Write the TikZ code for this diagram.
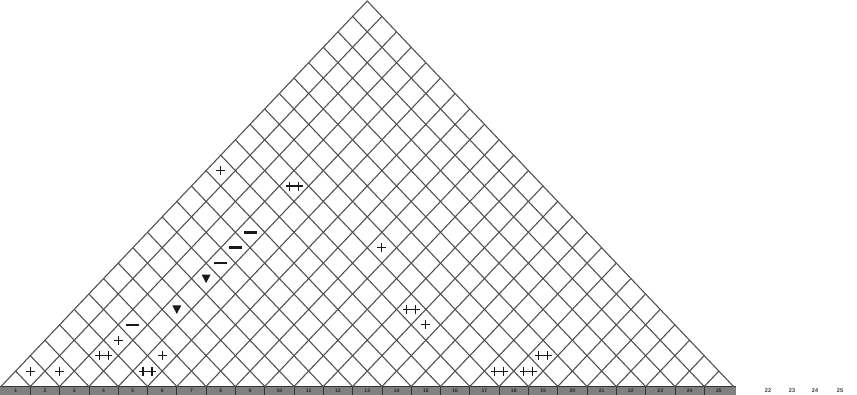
\documentclass[tikz,border=0pt]{standalone}
\usepackage{fontspec}
\setmainfont{Liberation Sans}
\begin{document}
\begin{tikzpicture}[x=1pt,y=-1pt,
  gridline/.style={draw=black!68, line width=1.1pt, line cap=round},
  symline/.style={line width=1.1pt, draw=black!90},
  plusmark/.pic={\draw[symline] (-4.5,0)--(4.5,0) (0,-4.5)--(0,4.5);},
  dplusmark/.pic={\draw[symline] (-8.5,0)--(8.5,0) (-4.5,-4.5)--(-4.5,4.5) (4.5,-4.5)--(4.5,4.5);},
  minusmark/.pic={\draw[line width=2.6pt, draw=black!90] (-6.5,0)--(6.5,0);},
  trimark/.pic={\fill[black!90] (-4.5,-4)--(4.5,-4)--(0,4.5)--cycle;},
  barlabel/.style={font=\fontsize{5}{5}\selectfont\bfseries, text=black!85, inner sep=0pt},
  outlabel/.style={font=\fontsize{5.5}{5.5}\selectfont\bfseries, text=black!80, inner sep=0pt}
]
\useasboundingbox (0,0) rectangle (857,395);
% bottom bar
\fill[black!50] (0,386.5) rectangle (736,395);
\draw[black!80, line width=0.8pt] (0,386.5) -- (736,386.5);
\foreach \i in {1,...,24}
  \draw[black!80, line width=0.8pt] ({1+29.3*\i},386.5) -- ({1+29.3*\i},395);
\foreach \k in {1,...,25}
  \node[barlabel] (bar\k) at ({1+29.3*(\k-0.5)},391.2) {\k};
% grid
\foreach \i in {0,...,25} {
  \draw[gridline] ({1+29.3*\i},386.5) -- ({1+14.65*(\i+25)},{386.5-15.42*(25-\i)});
  \draw[gridline] ({1+29.3*\i},386.5) -- ({1+14.65*\i},{386.5-15.42*\i});
}
% markers
\foreach \i/\j [count=\n] in {0/14,2/5,4/6,0/1,1/2,8/17,12/16}
  \pic (plus\n) at ({1+14.65*(\i+\j+1)},{386.5-15.42*(\j-\i)}) {plusmark};
\foreach \i/\j [count=\n] in {3/16,2/4,4/5,11/16,16/17,17/18,17/19}
  \pic (dplus\n) at ({1+14.65*(\i+\j+1)},{386.5-15.42*(\j-\i)}) {dplusmark};
\foreach \i/\j [count=\n] in {3/13,3/12,3/11,2/6}
  \pic (minus\n) at ({1+14.65*(\i+\j+1)},{386.5-15.42*(\j-\i)}) {minusmark};
\foreach \i/\j [count=\n] in {3/10,3/8}
  \pic (tri\n) at ({1+14.65*(\i+\j+1)},{386.5-15.42*(\j-\i)}) {trimark};
% labels right of the bar
\node[outlabel] (l22) at (768,391) {22};
\node[outlabel] (l23) at (792,391) {23};
\node[outlabel] (l24) at (815,391) {24};
\node[outlabel] (l25) at (840,391) {25};
\end{tikzpicture}
\end{document}
